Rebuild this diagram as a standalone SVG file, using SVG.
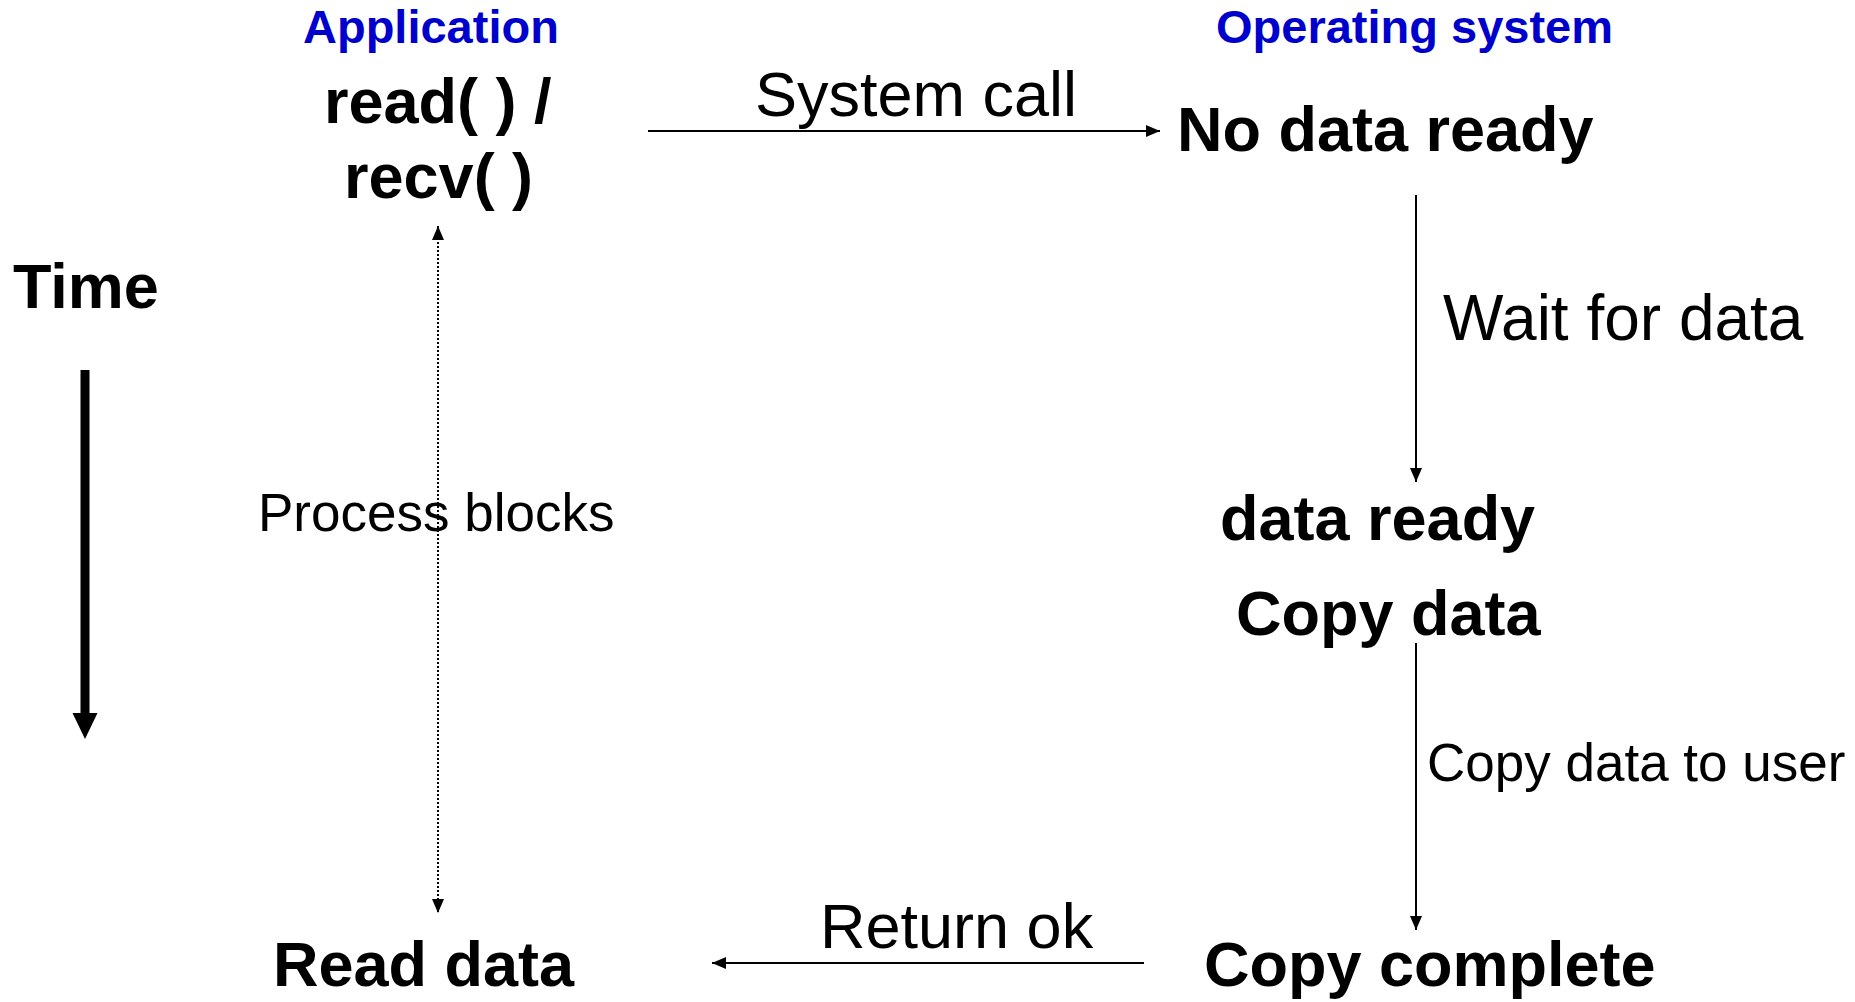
<svg xmlns="http://www.w3.org/2000/svg" width="1855" height="1002" viewBox="0 0 1855 1002">
<style>
  text { font-family: "Liberation Sans", Arial, Helvetica, sans-serif; fill: #000; }
  .hdr { font-weight: bold; font-size: 47px; fill: #0000CC; }
  .state { font-weight: bold; font-size: 63px; }
  .lbl { font-size: 63px; }
  .wide { font-size: 64px; }
  .small { font-size: 53px; }
  .conn { stroke: #000; stroke-width: 2; fill: none; }
  .dot { stroke: #000; stroke-width: 2; stroke-dasharray: 2 2; fill: none; }
</style>
<defs>
  <marker id="ah" markerUnits="userSpaceOnUse" markerWidth="14" markerHeight="12" refX="14" refY="6" orient="auto-start-reverse">
    <path d="M0,0 L14,6 L0,12 Z" fill="#000"/>
  </marker>
</defs>
<rect width="1855" height="1002" fill="#fff"/>

<g id="headers">
  <text class="hdr" x="303" y="43">Application</text>
  <text class="hdr" x="1216" y="43">Operating system</text>
</g>

<g id="time">
  <text class="state" x="13" y="308">Time</text>
  <line x1="85" y1="370" x2="85" y2="715" stroke="#000" stroke-width="9"/>
  <polygon points="72.5,713 97.5,713 85,739" fill="#000"/>
</g>

<g id="node-read">
  <text class="state" x="324" y="123">read( ) /</text>
  <text class="state" x="344" y="198">recv( )</text>
</g>

<g id="node-nodata">
  <text class="state" x="1177" y="151">No data ready</text>
</g>

<g id="node-dataready">
  <text class="state" x="1220" y="540">data ready</text>
</g>

<g id="node-copydata">
  <text class="state" x="1236" y="635">Copy data</text>
</g>

<g id="node-copycomplete">
  <text class="state" x="1204" y="986">Copy complete</text>
</g>

<g id="node-readdata">
  <text class="state" x="273" y="986">Read data</text>
</g>

<g id="connectors">
  <line class="conn" x1="648" y1="131" x2="1160" y2="131" marker-end="url(#ah)"/>
  <text class="lbl" x="755" y="116">System call</text>

  <line class="conn" x1="1416" y1="195" x2="1416" y2="482" marker-end="url(#ah)"/>
  <text class="wide" x="1443" y="340">Wait for data</text>

  <line class="conn" x1="1416" y1="643" x2="1416" y2="930" marker-end="url(#ah)"/>
  <text class="small" x="1427" y="781">Copy data to user</text>

  <line class="conn" x1="1144" y1="963" x2="712" y2="963" marker-end="url(#ah)"/>
  <text class="lbl" x="820" y="948">Return ok</text>

  <line class="dot" x1="438" y1="226" x2="438" y2="913" marker-start="url(#ah)" marker-end="url(#ah)"/>
  <text class="small" x="258" y="531">Process blocks</text>
</g>
</svg>
